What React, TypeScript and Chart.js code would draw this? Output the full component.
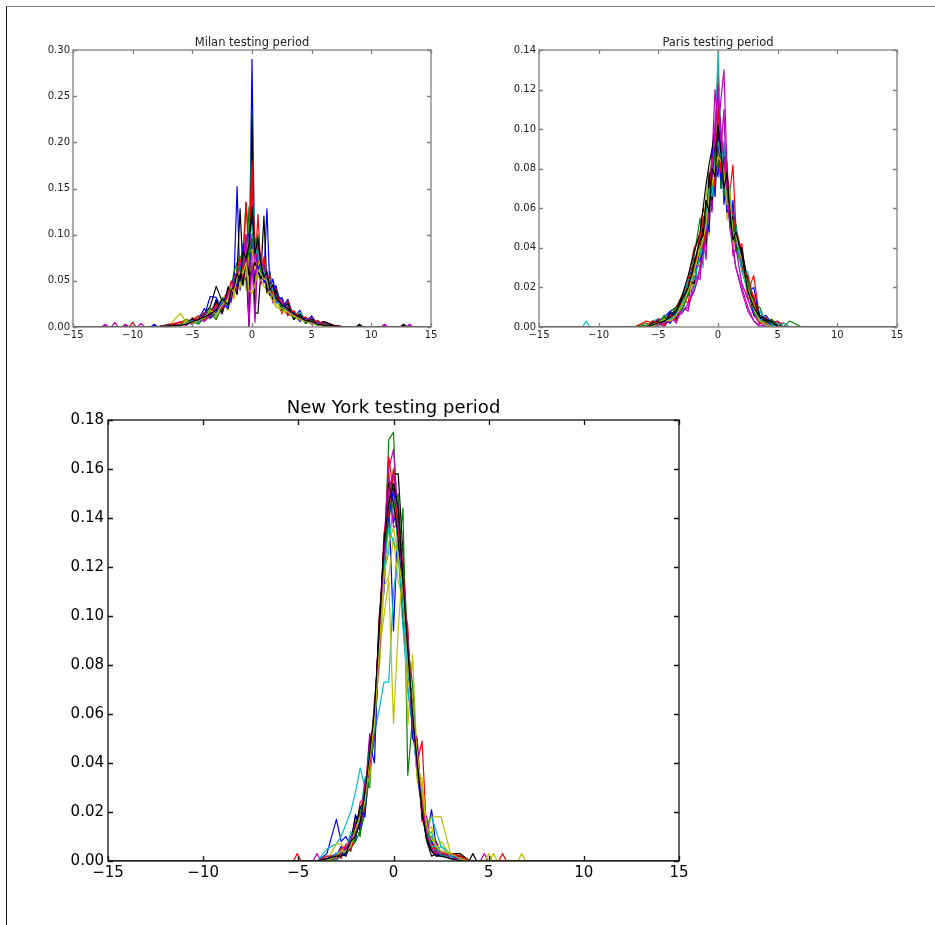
import React, { useEffect, useRef } from "react";
import { Chart, registerables } from "chart.js";
Chart.register(...registerables);

// ---------- shared ----------
const COLORS: Record<string, string> = {
  b: "#0000ff",
  g: "#008000",
  r: "#ff0000",
  c: "#00bfbf",
  m: "#bf00bf",
  y: "#bfbf00",
  k: "#000000",
};
const X_MIN = -15;
const X_MAX = 15;
const X_TICKS = [-15, -10, -5, 0, 5, 10, 15];

// ---------- Milan (values in thousandths) ----------
const milanBins = [-8, -7, -6, -5.5, -5, -4.5, -4, -3.5, -3, -2.5, -2, -1.75, -1.5, -1.25, -1, -0.75, -0.5, -0.25, 0, 0.25, 0.5, 0.75, 1, 1.25, 1.5, 1.75, 2, 2.5, 3, 3.5, 4, 4.5, 5, 5.5, 6, 7, 8];
const milanB1 = [0, 1, 3, 5, 6, 8, 12, 33, 32, 20, 25, 40, 55, 152, 40, 60, 50, 40, 290, 45, 60, 50, 55, 128, 40, 52, 35, 30, 18, 12, 10, 6, 4, 3, 2, 1, 0];
const milanG1 = [0, 2, 3, 5, 7, 9, 12, 16, 20, 28, 35, 42, 60, 70, 75, 80, 135, 90, 100, 85, 70, 65, 58, 50, 45, 40, 34, 26, 20, 15, 11, 8, 6, 4, 3, 1, 0];
const milanR1 = [0, 3, 5, 8, 6, 10, 15, 18, 22, 30, 38, 42, 45, 52, 60, 70, 135, 70, 200, 60, 122, 60, 50, 45, 40, 35, 30, 24, 18, 14, 10, 8, 6, 5, 3, 1, 0];
const milanC1 = [0, 1, 2, 4, 6, 8, 12, 15, 20, 26, 32, 38, 44, 48, 55, 62, 70, 78, 230, 75, 68, 60, 52, 45, 40, 36, 30, 25, 20, 16, 13, 9, 7, 4, 2, 0, 0];
const milanM1 = [0, 2, 4, 6, 8, 10, 13, 17, 21, 27, 34, 39, 45, 55, 60, 75, 90, 5, 100, 10, 85, 60, 54, 48, 42, 37, 31, 25, 19, 15, 11, 8, 6, 4, 3, 1, 0];
const milanY1 = [0, 1, 15, 5, 9, 12, 15, 19, 25, 30, 36, 40, 45, 50, 58, 65, 40, 55, 70, 60, 55, 50, 44, 40, 34, 28, 22, 18, 14, 10, 8, 6, 4, 2, 1, 0, 0];
const milanK1 = [0, 1, 3, 5, 8, 10, 14, 22, 44, 28, 35, 42, 50, 60, 128, 60, 70, 0, 230, 15, 15, 60, 120, 45, 38, 33, 28, 22, 18, 14, 12, 9, 7, 5, 3, 1, 0];
const milanB2 = [0, 2, 4, 3, 9, 6, 15, 12, 30, 18, 42, 30, 58, 40, 70, 45, 90, 60, 100, 55, 80, 50, 70, 40, 60, 35, 45, 20, 30, 10, 18, 6, 12, 3, 5, 1, 0];
const milanG2 = [0, 1, 3, 8, 4, 12, 7, 20, 14, 32, 22, 48, 36, 62, 50, 78, 64, 130, 110, 70, 88, 52, 66, 44, 58, 30, 38, 16, 26, 8, 14, 4, 9, 2, 4, 1, 0];
const milanR2 = [0, 2, 4, 2, 10, 5, 16, 10, 26, 16, 40, 28, 54, 38, 72, 52, 84, 70, 180, 64, 90, 48, 76, 40, 56, 28, 42, 14, 28, 12, 16, 6, 10, 4, 6, 1, 0];
const milanC2 = [0, 1, 3, 6, 3, 11, 8, 18, 12, 30, 20, 46, 34, 60, 44, 76, 58, 92, 100, 68, 84, 54, 62, 38, 52, 32, 36, 18, 24, 10, 16, 8, 8, 4, 3, 1, 0];
const milanM2 = [0, 2, 3, 3, 8, 5, 14, 10, 24, 14, 38, 26, 50, 36, 66, 48, 82, 62, 140, 58, 78, 46, 68, 36, 50, 26, 40, 20, 22, 9, 14, 5, 10, 3, 5, 1, 0];
const milanY2 = [0, 1, 4, 7, 4, 10, 6, 16, 10, 28, 18, 44, 30, 56, 42, 70, 54, 80, 84, 62, 74, 50, 60, 36, 46, 28, 34, 16, 20, 12, 10, 8, 6, 5, 2, 1, 0];
const milanK2 = [0, 2, 3, 4, 9, 5, 13, 11, 28, 15, 44, 30, 46, 35, 64, 46, 74, 56, 60, 70, 62, 52, 66, 38, 48, 30, 40, 18, 26, 8, 14, 5, 9, 3, 6, 1, 0];
const milanB3 = [0, 1, 2, 5, 3, 8, 20, 9, 16, 26, 20, 34, 52, 44, 56, 90, 66, 100, 120, 94, 62, 70, 48, 56, 34, 44, 26, 32, 14, 16, 6, 10, 3, 6, 1, 0, 0];
const milanG3 = [0, 2, 1, 4, 6, 3, 10, 16, 8, 22, 30, 38, 40, 66, 58, 70, 100, 76, 96, 84, 100, 60, 64, 48, 42, 38, 30, 22, 18, 10, 12, 4, 6, 2, 3, 0, 0];
const milanR3 = [0, 1, 6, 3, 5, 12, 8, 14, 24, 20, 34, 50, 42, 60, 74, 62, 96, 88, 150, 92, 70, 80, 58, 60, 44, 36, 32, 28, 12, 18, 8, 11, 4, 7, 2, 1, 0];
const milanC3 = [0, 0, 2, 4, 7, 5, 12, 14, 18, 28, 26, 36, 48, 50, 62, 72, 80, 96, 110, 88, 76, 66, 60, 50, 46, 40, 28, 24, 16, 14, 10, 7, 5, 3, 2, 0, 0];
const milanM3 = [0, 1, 3, 2, 6, 9, 6, 12, 20, 22, 36, 32, 56, 48, 70, 66, 100, 0, 70, 5, 94, 72, 64, 54, 40, 44, 30, 26, 18, 12, 9, 6, 5, 4, 2, 0, 0];
const milanY3 = [0, 0, 2, 6, 4, 7, 10, 18, 14, 24, 30, 42, 38, 54, 60, 58, 70, 40, 36, 46, 62, 58, 52, 50, 38, 34, 24, 20, 16, 12, 8, 6, 4, 3, 1, 0, 0];
const milanK3 = [0, 1, 2, 3, 6, 8, 11, 14, 18, 30, 24, 40, 44, 58, 50, 82, 74, 90, 130, 80, 96, 68, 54, 60, 40, 46, 32, 24, 20, 14, 11, 7, 6, 3, 2, 1, 0];
const milanBlipX = [-12.3, -11.5, -10.6, -10.0, -9.3, -8.2, -7.0, 9.0, 11.1, 12.7, 13.2];
const milanBlipY = [3, 5, 3, 5, 4, 3, 3, 3, 3, 3, 3];
const milanBlipC = ["m", "m", "m", "r", "m", "b", "r", "k", "m", "k", "m"];
const milanYTicks = [0, 0.05, 0.1, 0.15, 0.2, 0.25, 0.3];

// ---------- Paris (values in thousandths) ----------
const parisBins = [-7, -6, -5.5, -5, -4.5, -4, -3.5, -3, -2.5, -2, -1.5, -1.25, -1, -0.75, -0.5, -0.25, 0, 0.25, 0.5, 0.75, 1, 1.25, 1.5, 2, 2.5, 3, 3.5, 4, 4.5, 5, 5.5, 6, 7];
const parisB1 = [0, 0, 0, 3, 5, 8, 10, 14, 22, 34, 40, 52, 55, 70, 82, 75, 100, 70, 78, 60, 62, 58, 48, 36, 22, 10, 3, 0, 1, 2, 0, 0, 0];
const parisG1 = [0, 2, 0, 1, 2, 8, 10, 15, 18, 36, 55, 45, 52, 72, 80, 90, 130, 85, 75, 62, 58, 50, 45, 34, 20, 8, 2, 4, 2, 0, 0, 3, 0];
const parisR1 = [0, 3, 2, 4, 3, 5, 10, 16, 24, 40, 45, 60, 55, 62, 75, 92, 130, 80, 85, 72, 68, 82, 50, 38, 18, 26, 4, 1, 1, 2, 2, 0, 0];
const parisC1 = [0, 0, 3, 4, 4, 5, 6, 12, 20, 30, 38, 46, 58, 66, 78, 88, 140, 95, 82, 70, 62, 55, 45, 36, 24, 12, 4, 3, 3, 0, 2, 0, 0];
const parisM1 = [0, 0, 0, 2, 3, 4, 6, 8, 10, 20, 30, 40, 55, 70, 85, 120, 100, 115, 130, 80, 60, 40, 30, 20, 10, 3, 0, 0, 0, 0, 0, 0, 0];
const parisY1 = [0, 0, 0, 2, 3, 5, 8, 13, 20, 32, 42, 52, 66, 78, 84, 92, 98, 90, 82, 74, 60, 48, 44, 32, 16, 6, 2, 1, 0, 0, 0, 0, 0];
const parisK1 = [0, 0, 2, 3, 4, 6, 9, 16, 26, 38, 48, 60, 72, 82, 90, 100, 92, 86, 78, 68, 56, 48, 46, 38, 24, 14, 3, 2, 3, 1, 0, 0, 0];
const parisB2 = [0, 0, 1, 4, 2, 8, 4, 14, 16, 30, 40, 52, 44, 72, 60, 86, 76, 98, 62, 80, 50, 64, 44, 38, 18, 20, 4, 6, 2, 3, 0, 0, 0];
const parisG2 = [0, 0, 3, 1, 6, 2, 10, 8, 24, 20, 46, 36, 64, 56, 80, 74, 104, 70, 92, 58, 66, 44, 52, 30, 24, 10, 10, 2, 4, 1, 0, 0, 0];
const parisR2 = [0, 0, 0, 4, 1, 6, 3, 14, 12, 34, 30, 56, 40, 68, 62, 92, 82, 96, 70, 84, 54, 48, 38, 42, 14, 16, 2, 5, 1, 3, 0, 0, 0];
const parisC2 = [0, 0, 2, 0, 4, 3, 8, 7, 20, 18, 42, 30, 60, 50, 76, 70, 110, 80, 94, 60, 72, 42, 50, 28, 28, 8, 8, 3, 1, 2, 0, 0, 0];
const parisM2 = [0, 0, 0, 2, 0, 5, 2, 10, 8, 26, 24, 48, 34, 64, 58, 96, 122, 90, 110, 62, 68, 36, 40, 22, 14, 6, 2, 1, 0, 0, 0, 0, 0];
const parisY2 = [0, 0, 1, 3, 2, 4, 6, 10, 18, 22, 44, 34, 58, 46, 82, 66, 90, 76, 86, 54, 70, 40, 46, 34, 18, 12, 3, 2, 1, 0, 0, 0, 0];
const parisK2 = [0, 0, 2, 3, 1, 7, 4, 13, 24, 22, 40, 50, 42, 78, 64, 90, 100, 84, 76, 72, 52, 56, 40, 40, 20, 14, 6, 4, 2, 1, 0, 0, 0];
const parisB3 = [0, 0, 0, 1, 3, 2, 7, 11, 18, 28, 34, 38, 56, 48, 90, 66, 96, 74, 86, 58, 60, 50, 42, 32, 20, 6, 5, 3, 1, 0, 0, 0, 0];
const parisG3 = [0, 1, 0, 2, 5, 3, 9, 9, 16, 32, 38, 42, 48, 62, 70, 88, 80, 92, 66, 76, 50, 54, 40, 30, 22, 8, 3, 3, 2, 0, 0, 0, 0];
const parisR3 = [0, 0, 3, 2, 1, 6, 5, 13, 22, 28, 48, 40, 52, 60, 86, 70, 112, 78, 82, 66, 56, 58, 48, 30, 26, 14, 2, 2, 0, 0, 0, 0, 0];
const parisC3 = [0, 0, 1, 2, 3, 4, 6, 12, 24, 24, 36, 46, 50, 70, 66, 84, 94, 86, 72, 68, 64, 46, 48, 28, 18, 10, 4, 1, 1, 0, 0, 0, 0];
const parisM3 = [0, 0, 0, 1, 2, 3, 5, 7, 12, 18, 28, 36, 46, 60, 74, 104, 118, 100, 84, 70, 50, 40, 30, 18, 8, 3, 1, 0, 0, 0, 0, 0, 0];
const parisY3 = [0, 0, 0, 2, 4, 3, 6, 11, 18, 28, 40, 44, 52, 66, 72, 80, 86, 84, 78, 62, 62, 48, 46, 34, 20, 9, 3, 1, 0, 0, 0, 0, 0];
const parisK3 = [0, 0, 1, 2, 3, 5, 8, 14, 20, 32, 44, 46, 64, 58, 80, 76, 102, 88, 70, 78, 58, 44, 48, 36, 18, 10, 5, 3, 3, 0, 0, 0, 0];
const parisBlipX = [-11.05];
const parisBlipY = [3];
const parisBlipC = ["c"];
const parisYTicks = [0, 0.02, 0.04, 0.06, 0.08, 0.1, 0.12, 0.14];

// ---------- New York (values in thousandths) ----------
const nyBins = [-5, -4, -3.5, -3, -2.75, -2.5, -2.25, -2, -1.75, -1.5, -1.25, -1, -0.75, -0.5, -0.25, 0, 0.25, 0.5, 0.75, 1, 1.25, 1.5, 1.75, 2, 2.25, 2.5, 3, 3.5, 4, 5];
const nyB1 = [0, 0, 3, 17, 8, 10, 6, 19, 12, 20, 38, 50, 85, 130, 147, 94, 140, 100, 70, 55, 35, 20, 10, 21, 5, 3, 2, 0, 0, 0];
const nyG1 = [0, 0, 0, 3, 3, 3, 5, 8, 12, 20, 36, 52, 90, 120, 172, 175, 125, 144, 35, 58, 40, 20, 8, 5, 3, 2, 3, 2, 0, 0];
const nyR1 = [0, 0, 0, 2, 4, 3, 8, 12, 15, 22, 42, 60, 95, 125, 165, 150, 130, 100, 80, 60, 40, 49, 10, 4, 3, 3, 2, 0, 0, 0];
const nyC1 = [0, 0, 5, 7, 10, 15, 20, 28, 38, 30, 42, 52, 62, 73, 73, 110, 125, 95, 70, 55, 35, 25, 15, 18, 12, 6, 3, 2, 0, 0];
const nyM1 = [0, 0, 0, 2, 3, 5, 8, 12, 16, 24, 40, 58, 98, 130, 160, 168, 140, 108, 85, 60, 40, 25, 12, 8, 5, 4, 3, 3, 0, 0];
const nyY1 = [0, 0, 0, 7, 7, 5, 9, 15, 20, 28, 42, 58, 85, 100, 115, 56, 95, 122, 55, 84, 40, 30, 12, 18, 18, 18, 3, 3, 0, 0];
const nyK1 = [0, 0, 0, 3, 3, 2, 8, 18, 18, 25, 42, 60, 88, 130, 150, 158, 158, 125, 81, 62, 40, 20, 8, 2, 3, 2, 3, 3, 0, 0];
const nyB2 = [0, 0, 0, 2, 6, 3, 10, 8, 22, 18, 48, 40, 96, 110, 150, 138, 146, 104, 92, 50, 46, 18, 14, 4, 8, 2, 3, 0, 0, 0];
const nyG2 = [0, 0, 0, 0, 3, 6, 4, 14, 10, 32, 30, 64, 80, 126, 136, 160, 132, 128, 88, 72, 36, 28, 8, 10, 3, 4, 2, 2, 0, 0];
const nyR2 = [0, 0, 0, 3, 1, 7, 6, 10, 24, 26, 50, 54, 100, 116, 158, 140, 142, 106, 96, 56, 48, 16, 16, 5, 6, 2, 3, 1, 0, 0];
const nyC2 = [0, 0, 2, 0, 5, 4, 12, 10, 18, 34, 36, 66, 84, 118, 126, 148, 128, 116, 76, 64, 34, 30, 10, 12, 4, 6, 2, 2, 0, 0];
const nyM2 = [0, 0, 0, 2, 2, 6, 5, 16, 14, 26, 52, 50, 94, 122, 156, 136, 138, 112, 92, 54, 50, 20, 18, 6, 7, 3, 3, 1, 0, 0];
const nyY2 = [0, 0, 0, 1, 5, 3, 9, 12, 16, 30, 34, 62, 78, 112, 116, 132, 114, 108, 74, 66, 32, 34, 12, 14, 5, 8, 2, 0, 0, 0];
const nyK2 = [0, 0, 0, 2, 3, 5, 7, 14, 22, 24, 48, 56, 98, 124, 154, 146, 132, 100, 86, 58, 46, 18, 12, 4, 2, 3, 1, 2, 0, 0];
const nyB3 = [0, 0, 1, 3, 4, 2, 8, 12, 14, 28, 40, 58, 88, 128, 140, 152, 138, 118, 80, 62, 38, 24, 10, 8, 3, 2, 2, 1, 0, 0];
const nyG3 = [0, 0, 0, 1, 2, 4, 6, 9, 20, 22, 44, 52, 92, 118, 148, 144, 150, 112, 90, 56, 42, 22, 14, 6, 5, 3, 1, 1, 0, 0];
const nyR3 = [0, 0, 2, 2, 5, 6, 4, 12, 16, 30, 38, 64, 86, 134, 142, 160, 134, 120, 84, 60, 44, 26, 9, 7, 4, 3, 3, 2, 0, 0];
const nyC3 = [0, 0, 0, 3, 4, 3, 7, 10, 18, 26, 46, 54, 90, 120, 136, 130, 126, 102, 78, 64, 40, 20, 12, 6, 6, 2, 2, 0, 0, 0];
const nyM3 = [0, 0, 1, 1, 3, 5, 9, 11, 15, 32, 40, 60, 82, 126, 152, 158, 140, 116, 88, 58, 38, 22, 11, 5, 3, 4, 1, 1, 0, 0];
const nyY3 = [0, 0, 0, 2, 4, 4, 6, 13, 18, 24, 42, 56, 86, 116, 130, 136, 124, 110, 82, 62, 44, 28, 14, 9, 6, 4, 3, 1, 0, 0];
const nyK3 = [0, 0, 1, 2, 2, 3, 8, 10, 16, 28, 44, 62, 94, 130, 146, 154, 144, 114, 86, 60, 40, 20, 9, 4, 2, 2, 1, 0, 0, 0];
const nyBlipX = [-5.06, -4.02, 4.17, 4.77, 5.0, 5.25, 5.73, 6.74];
const nyBlipY = [3, 3, 3, 3, 3, 3, 3, 3];
const nyBlipC = ["r", "m", "k", "m", "y", "y", "r", "y"];
const nyYTicks = [0, 0.02, 0.04, 0.06, 0.08, 0.1, 0.12, 0.14, 0.16, 0.18];

type Series = [string, number[]];

const milanSeries: Series[] = [
  ["b", milanB1], ["g", milanG1], ["r", milanR1], ["c", milanC1], ["m", milanM1], ["y", milanY1], ["k", milanK1],
  ["b", milanB2], ["g", milanG2], ["r", milanR2], ["c", milanC2], ["m", milanM2], ["y", milanY2], ["k", milanK2],
  ["b", milanB3], ["g", milanG3], ["r", milanR3], ["c", milanC3], ["m", milanM3], ["y", milanY3], ["k", milanK3],
];
const parisSeries: Series[] = [
  ["b", parisB1], ["g", parisG1], ["r", parisR1], ["c", parisC1], ["m", parisM1], ["y", parisY1], ["k", parisK1],
  ["b", parisB2], ["g", parisG2], ["r", parisR2], ["c", parisC2], ["m", parisM2], ["y", parisY2], ["k", parisK2],
  ["b", parisB3], ["g", parisG3], ["r", parisR3], ["c", parisC3], ["m", parisM3], ["y", parisY3], ["k", parisK3],
];
const nySeries: Series[] = [
  ["b", nyB1], ["g", nyG1], ["r", nyR1], ["c", nyC1], ["m", nyM1], ["y", nyY1], ["k", nyK1],
  ["b", nyB2], ["g", nyG2], ["r", nyR2], ["c", nyC2], ["m", nyM2], ["y", nyY2], ["k", nyK2],
  ["b", nyB3], ["g", nyG3], ["r", nyR3], ["c", nyC3], ["m", nyM3], ["y", nyY3], ["k", nyK3],
];

function lineDs(data: { x: number; y: number }[], color: string) {
  return {
    data,
    borderColor: color,
    backgroundColor: color,
    borderWidth: 1.2,
    pointRadius: 0,
    fill: false,
    tension: 0,
    borderJoinStyle: "round",
  };
}

function buildDatasets(
  bins: number[],
  series: Series[],
  blipX: number[],
  blipY: number[],
  blipC: string[],
  halfW: number
) {
  const ds: any[] = [];
  blipX.forEach((bx, i) => {
    ds.push(
      lineDs(
        [
          { x: bx - halfW, y: 0 },
          { x: bx, y: blipY[i] / 1000 },
          { x: bx + halfW, y: 0 },
        ],
        COLORS[blipC[i]]
      )
    );
  });
  series.forEach(([c, vals]) => {
    const data = [
      { x: X_MIN, y: 0 },
      ...bins.map((b, i) => ({ x: b, y: vals[i] / 1000 })),
      { x: X_MAX, y: 0 },
    ];
    ds.push(lineDs(data, COLORS[c]));
  });
  // Chart.js paints dataset 0 on top; reverse so later series sit on top
  return ds.reverse();
}

const mplPlugin = {
  id: "mplFrame",
  afterDatasetsDraw(chart: any, _args: any, o: any) {
    const { ctx, chartArea: a, scales } = chart;
    ctx.save();
    ctx.strokeStyle = o.frameColor;
    ctx.lineWidth = o.frameWidth;
    ctx.beginPath();
    for (const v of X_TICKS) {
      const px = Math.round(scales.x.getPixelForValue(v)) + 0.5;
      ctx.moveTo(px, a.bottom);
      ctx.lineTo(px, a.bottom - o.tick);
      ctx.moveTo(px, a.top);
      ctx.lineTo(px, a.top + o.tick);
    }
    for (const v of o.yTicks) {
      const py = Math.round(scales.y.getPixelForValue(v)) + 0.5;
      ctx.moveTo(a.left, py);
      ctx.lineTo(a.left + o.tick, py);
      ctx.moveTo(a.right, py);
      ctx.lineTo(a.right - o.tick, py);
    }
    ctx.stroke();
    ctx.strokeRect(a.left, a.top, a.right - a.left, a.bottom - a.top);
    ctx.fillStyle = o.textColor;
    ctx.font = o.titleFont;
    ctx.textAlign = "center";
    ctx.textBaseline = "alphabetic";
    ctx.fillText(o.title, (a.left + a.right) / 2, a.top - o.titleGap);
    ctx.restore();
  },
};

const FONT = "'DejaVu Sans', 'Liberation Sans', sans-serif";

type PanelCfg = {
  left: number;
  top: number;
  w: number;
  h: number;
  padTop: number;
  padRight: number;
  yWidth: number;
  xHeight: number;
  tickFont: number;
  titleFont: number;
  titleGap: number;
  tick: number;
  frameColor: string;
  frameWidth: number;
  textColor: string;
  title: string;
  yMax: number;
  yTicks: number[];
  datasets: any[];
  labelPad: number;
};

function Panel({ cfg }: { cfg: PanelCfg }) {
  const ref = useRef<HTMLCanvasElement | null>(null);
  useEffect(() => {
    const chart = new Chart(ref.current as HTMLCanvasElement, {
      type: "line",
      data: { datasets: cfg.datasets },
      plugins: [mplPlugin as any],
      options: {
        animation: false,
        responsive: false,
        events: [],
        layout: { padding: { top: cfg.padTop, right: cfg.padRight, left: 0, bottom: 0 } },
        plugins: {
          legend: { display: false },
          tooltip: { enabled: false },
          title: { display: false },
          mplFrame: {
            yTicks: cfg.yTicks,
            tick: cfg.tick,
            frameColor: cfg.frameColor,
            frameWidth: cfg.frameWidth,
            textColor: cfg.textColor,
            titleFont: `${cfg.titleFont}px ${FONT}`,
            titleGap: cfg.titleGap,
            title: cfg.title,
          },
        } as any,
        scales: {
          x: {
            type: "linear",
            min: X_MIN,
            max: X_MAX,
            grid: { display: false, drawTicks: false },
            border: { display: false },
            afterBuildTicks: (s: any) => {
              s.ticks = X_TICKS.map((v) => ({ value: v }));
            },
            afterFit: (s: any) => {
              s.height = cfg.xHeight;
            },
            ticks: {
              autoSkip: false,
              maxRotation: 0,
              minRotation: 0,
              padding: cfg.labelPad,
              color: cfg.textColor,
              font: { family: FONT, size: cfg.tickFont },
              callback: (v: any) => (Number(v) < 0 ? "\u2212" + Math.abs(Number(v)) : String(v)),
            },
          },
          y: {
            type: "linear",
            min: 0,
            max: cfg.yMax,
            grid: { display: false, drawTicks: false },
            border: { display: false },
            afterBuildTicks: (s: any) => {
              s.ticks = cfg.yTicks.map((v) => ({ value: v }));
            },
            afterFit: (s: any) => {
              s.width = cfg.yWidth;
            },
            ticks: {
              autoSkip: false,
              padding: cfg.labelPad + 1,
              color: cfg.textColor,
              font: { family: FONT, size: cfg.tickFont },
              callback: (v: any) => Number(v).toFixed(2),
            },
          },
        },
      } as any,
    });
    return () => chart.destroy();
  }, []);
  return (
    <canvas
      ref={ref}
      width={cfg.w}
      height={cfg.h}
      style={{ position: "absolute", left: cfg.left, top: cfg.top, width: cfg.w, height: cfg.h }}
    />
  );
}

const milanCfg: PanelCfg = {
  left: 10, top: 30, w: 440, h: 330, padTop: 20, padRight: 19, yWidth: 63, xHeight: 33,
  tickFont: 10, titleFont: 11.5, titleGap: 4, tick: 4, frameColor: "#808080", frameWidth: 1.3,
  textColor: "#222222", title: "Milan testing period", yMax: 0.3, yTicks: milanYTicks, labelPad: 2,
  datasets: buildDatasets(milanBins, milanSeries, milanBlipX, milanBlipY, milanBlipC, 0.3),
};
const parisCfg: PanelCfg = {
  left: 476, top: 30, w: 450, h: 330, padTop: 20, padRight: 29, yWidth: 63, xHeight: 33,
  tickFont: 10, titleFont: 11.5, titleGap: 4, tick: 4, frameColor: "#808080", frameWidth: 1.3,
  textColor: "#222222", title: "Paris testing period", yMax: 0.14, yTicks: parisYTicks, labelPad: 2,
  datasets: buildDatasets(parisBins, parisSeries, parisBlipX, parisBlipY, parisBlipC, 0.3),
};
const nyCfg: PanelCfg = {
  left: 30, top: 395, w: 680, h: 505, padTop: 25, padRight: 31, yWidth: 78, xHeight: 39,
  tickFont: 15, titleFont: 18, titleGap: 7, tick: 5, frameColor: "#111111", frameWidth: 1.3,
  textColor: "#000000", title: "New York testing period", yMax: 0.18, yTicks: nyYTicks, labelPad: 3,
  datasets: buildDatasets(nyBins, nySeries, nyBlipX, nyBlipY, nyBlipC, 0.2),
};

export default function App() {
  return (
    <div
      style={{
        position: "absolute",
        left: 0,
        top: 0,
        width: 935,
        height: 925,
        overflow: "hidden",
        background: "#ffffff",
      }}
    >
      <div
        style={{
          position: "absolute",
          left: 6,
          top: 6,
          width: 935,
          height: 925,
          borderTop: "1px solid #808080",
          borderLeft: "1px solid #111111",
        }}
      />
      <Panel cfg={milanCfg} />
      <Panel cfg={parisCfg} />
      <Panel cfg={nyCfg} />
    </div>
  );
}
